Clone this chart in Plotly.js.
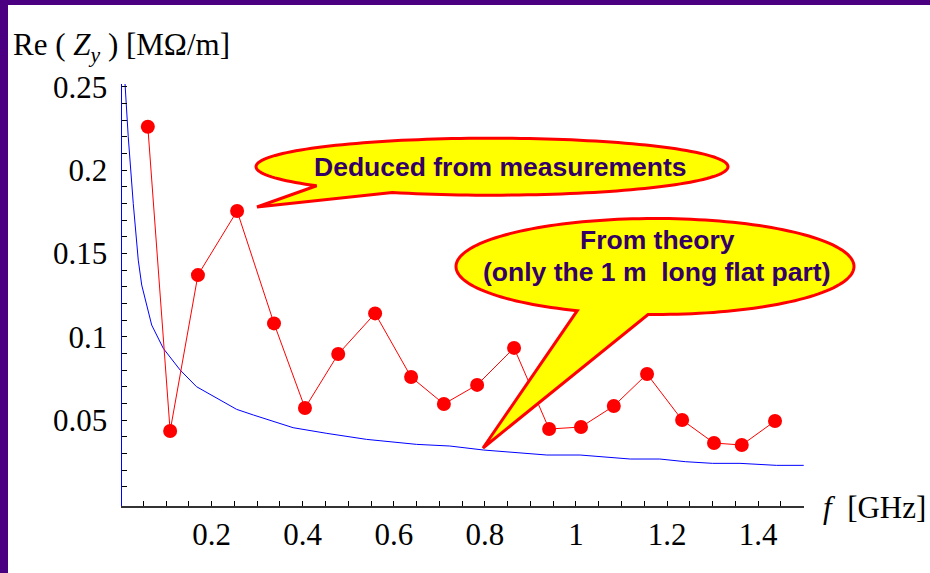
<!DOCTYPE html>
<html><head><meta charset="utf-8">
<script src="https://cdn.plot.ly/plotly-3.0.1.min.js"></script>
<style>html,body{margin:0;padding:0;background:#fff}#chart{width:930px;height:573px}</style>
</head><body><div id="chart"></div>
<script>
// Measured Re(Zy) [MOhm/m] vs frequency [GHz]
const measFreq = [0.060, 0.109, 0.170, 0.256, 0.337, 0.405, 0.478, 0.559, 0.638, 0.710,
                  0.783, 0.864, 0.941, 1.011, 1.083, 1.156, 1.233, 1.303, 1.364, 1.437];
const measRe   = [0.226, 0.0434, 0.137, 0.1755, 0.108, 0.0572, 0.0896, 0.114, 0.0758, 0.0596,
                  0.0711, 0.0933, 0.0446, 0.0458, 0.0584, 0.0776, 0.0500, 0.0362, 0.0350, 0.0494];
// Theory curve (only the 1 m long flat part)
const theoryFreq = [0.0099, 0.017, 0.028, 0.039, 0.0466, 0.0685, 0.094, 0.131, 0.167, 0.218,
                    0.255, 0.292, 0.379, 0.453, 0.54, 0.65, 0.723, 0.797, 0.87, 0.936,
                    1.009, 1.06, 1.119, 1.184, 1.24, 1.30, 1.36, 1.44, 1.50];
const theoryRe   = [0.252, 0.22, 0.18, 0.146, 0.131, 0.107, 0.093, 0.080, 0.070, 0.062,
                    0.0564, 0.053, 0.0454, 0.042, 0.0384, 0.0354, 0.0344, 0.032, 0.0305, 0.029,
                    0.029, 0.028, 0.0266, 0.0266, 0.025, 0.024, 0.024, 0.0228, 0.0228];
// Tick labels
const yTickVals = [0.05, 0.1, 0.15, 0.2, 0.25];
const yTickText = ["0.05", "0.1", "0.15", "0.2", "0.25"];
const xTickVals = [0.2, 0.4, 0.6, 0.8, 1.0, 1.2, 1.4];
const xTickText = ["0.2", "0.4", "0.6", "0.8", "1", "1.2", "1.4"];
// Texts
const bubble1Text = "Deduced from measurements";
const bubble2Line1 = "From theory";
const bubble2Line2 = "(only the 1 m\u00a0\u00a0long flat part)";

const W = 930, H = 573, L = 122, R = 126, T = 84, B = 67;
const pw = W - L - R, ph = H - T - B;
const px = x => (x - L) / pw;
const py = y => (T + ph - y) / ph;

function bubble(cx, cy, rx, ry, a0, a1, tx, ty) {
  let d = '';
  const n = 160;
  for (let i = 0; i <= n; i++) {
    const a = (a0 + (a1 - a0) * i / n) * Math.PI / 180;
    const X = cx + rx * Math.cos(a), Y = cy + ry * Math.sin(a);
    d += (i ? 'L' : 'M') + px(X).toFixed(5) + ',' + py(Y).toFixed(5);
  }
  d += 'L' + px(tx).toFixed(5) + ',' + py(ty).toFixed(5) + 'Z';
  return d;
}

const yMinor = [];
for (let i = 1; i <= 25; i++) yMinor.push(+(i * 0.01).toFixed(2));

const serif = "Liberation Serif, Times New Roman, serif";
const sans = "Liberation Sans, Arial, sans-serif";
const txtColor = "#330066";
const bubbleFont = 26.5;

const traces = [
  {x: theoryFreq, y: theoryRe, mode: 'lines', line: {color: '#0000FF', width: 1}, hoverinfo: 'skip'},
  {x: measFreq, y: measRe, mode: 'lines+markers', line: {color: '#FF0000', width: 1},
   marker: {color: '#FF0000', size: 14}, cliponaxis: false}
];

const layout = {
  width: W, height: H,
  margin: {l: L, r: R, t: T, b: B, pad: 0},
  paper_bgcolor: '#FFFFFF', plot_bgcolor: '#FFFFFF',
  showlegend: false,
  xaxis: {
    range: [0.0033, 1.5006], tickmode: 'array', tickvals: xTickVals, ticktext: xTickText,
    ticks: 'inside', ticklen: 5, tickwidth: 1, tickcolor: '#000',
    minor: {dtick: 0.05, tick0: 0, ticks: 'inside', ticklen: 5, tickwidth: 1, tickcolor: '#000'},
    showgrid: false, zeroline: false, showline: true, linecolor: '#333', linewidth: 1.5,
    tickfont: {family: serif, size: 31, color: '#000'}, ticklabelstandoff: 0
  },
  yaxis: {
    range: [-0.0016, 0.2517], tickmode: 'array', tickvals: yTickVals, ticktext: yTickText,
    ticks: 'inside', ticklen: 5, tickwidth: 1, tickcolor: '#000',
    minor: {tickmode: 'array', tickvals: yMinor, ticks: 'inside', ticklen: 5, tickwidth: 1, tickcolor: '#000'},
    showgrid: false, zeroline: false, showline: true, linecolor: '#0000FF', linewidth: 1.5,
    tickfont: {family: serif, size: 31, color: '#000'}, ticklabelstandoff: 7
  },
  shapes: [
    {type: 'rect', xref: 'paper', yref: 'paper', x0: px(0), x1: px(W), y0: py(5), y1: py(0),
     fillcolor: '#4B0082', line: {width: 0}, layer: 'above'},
    {type: 'rect', xref: 'paper', yref: 'paper', x0: px(0), x1: px(8), y0: py(H), y1: py(0),
     fillcolor: '#4B0082', line: {width: 0}, layer: 'above'},
    {type: 'path', xref: 'paper', yref: 'paper', path: bubble(492, 166.7, 236, 28.5, 138, 475, 257, 207),
     fillcolor: '#FFFF00', line: {color: '#FF0000', width: 3}, layer: 'above'},
    {type: 'path', xref: 'paper', yref: 'paper', path: bubble(655, 266.5, 199, 48, 113, 452, 483, 448),
     fillcolor: '#FFFF00', line: {color: '#FF0000', width: 3}, layer: 'above'}
  ],
  annotations: [
    {xref: 'paper', yref: 'paper', x: px(11), y: py(47), xanchor: 'left', yanchor: 'middle', showarrow: false,
     text: "Re ( <i>Z<sub>y</sub></i> ) [MΩ/m]", font: {family: serif, size: 31, color: '#000'}},
    {xref: 'paper', yref: 'paper', x: px(821), y: py(507), xanchor: 'left', yanchor: 'middle', showarrow: false,
     text: "<i>f</i>  [GHz]", font: {family: serif, size: 31, color: '#000'}},
    {xref: 'paper', yref: 'paper', x: px(501), y: py(167), xanchor: 'center', yanchor: 'middle', showarrow: false,
     text: "<b>" + bubble1Text + "</b>", font: {family: sans, size: bubbleFont, color: txtColor}},
    {xref: 'paper', yref: 'paper', x: px(657), y: py(240), xanchor: 'center', yanchor: 'middle', showarrow: false,
     text: "<b>" + bubble2Line1 + "</b>", font: {family: sans, size: bubbleFont, color: txtColor}},
    {xref: 'paper', yref: 'paper', x: px(656), y: py(272), xanchor: 'center', yanchor: 'middle', showarrow: false,
     text: "<b>" + bubble2Line2 + "</b>", font: {family: sans, size: bubbleFont, color: txtColor}}
  ]
};

Plotly.newPlot('chart', traces, layout, {displayModeBar: false, staticPlot: true});
</script>
</body></html>
